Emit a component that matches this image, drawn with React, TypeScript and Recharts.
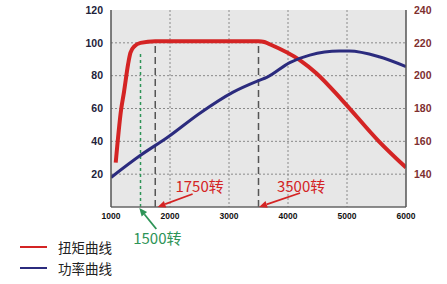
import {
  ComposedChart,
  Line,
  XAxis,
  YAxis,
  CartesianGrid,
  ReferenceLine,
  ReferenceDot,
  Legend,
} from "recharts";

const rpmTicks = [1000, 2000, 3000, 4000, 5000, 6000];
const powerTicks = [20, 40, 60, 80, 100, 120];
const torqueTicks = [140, 160, 180, 200, 220, 240];

// torque curve (Nm, right axis)
const torqueRpm = [1080, 1170, 1220, 1290, 1330, 1400, 1500, 1750, 2500, 3500, 3600, 3700, 4200, 4480, 4920, 5540, 6000];
const torqueNm = [147, 179, 190, 207, 214, 218, 220, 221, 221, 221, 220.5, 219, 209.5, 201.5, 185, 160, 144];

// power curve (kW, left axis)
const powerRpm = [1000, 1500, 1960, 2500, 3070, 3500, 3640, 4030, 4370, 4870, 5040, 5545, 6000];
const powerKw = [18, 31.5, 42.5, 57, 70, 77, 79, 88, 92.5, 95, 95, 91.5, 85.5];

const legendNames = ["扭矩曲线", "功率曲线"];

const RED = "#d42424";
const BLUE = "#2b2b7e";
const GREEN = "#2e9457";

const torqueData = torqueRpm.map((rpm, i) => ({ rpm, torque: torqueNm[i] }));
const powerData = powerRpm.map((rpm, i) => ({ rpm, power: powerKw[i] }));

const Callout = (props: any) => {
  const { cx, cy, dx, dy, tx, ty, text, color } = props;
  const sx = cx + dx;
  const sy = cy + dy;
  const a = Math.atan2(cy - sy, cx - sx);
  const hl = 8;
  const hw = 3.5;
  const bx = cx - hl * Math.cos(a);
  const by = cy - hl * Math.sin(a);
  const nx = -Math.sin(a);
  const ny = Math.cos(a);
  return (
    <g>
      <line x1={sx} y1={sy} x2={bx} y2={by} stroke={color} strokeWidth={1.8} />
      <polygon
        points={`${cx},${cy} ${bx + hw * nx},${by + hw * ny} ${bx - hw * nx},${by - hw * ny}`}
        fill={color}
      />
      <text
        x={cx + tx}
        y={cy + ty}
        textAnchor="middle"
        dominantBaseline="central"
        fill={color}
        fontSize={15}
        fontFamily="'Noto Sans CJK SC', sans-serif"
      >
        {text}
      </text>
    </g>
  );
};

const renderLegend = () => (
  <div style={{ fontFamily: "'Noto Sans CJK SC', sans-serif", fontSize: 13.5, color: "#222" }}>
    {legendNames.map((name, i) => (
      <div key={name} style={{ display: "flex", alignItems: "center", height: 21 }}>
        <span
          style={{
            display: "inline-block",
            width: 27,
            height: 2,
            marginLeft: 20,
            marginRight: 11,
            background: i === 0 ? RED : BLUE,
          }}
        />
        {name}
      </div>
    ))}
  </div>
);

const App = () => {
  return (
    <div style={{ position: "absolute", left: 0, top: 0, width: 447, height: 284, background: "#fff" }}>
      <ComposedChart width={447} height={284} margin={{ top: 10, right: 0, left: 0, bottom: 47 }}>
        <CartesianGrid
          xAxisId="bottom"
          yAxisId="left"
          fill="#e7e7e7"
          stroke="#8a8a8a"
          strokeDasharray="2 2"
          horizontalValues={[20, 40, 60, 80, 100]}
          verticalValues={[2000, 3000, 4000, 5000]}
        />
        <XAxis
          xAxisId="bottom"
          dataKey="rpm"
          type="number"
          domain={[1000, 6000]}
          ticks={rpmTicks}
          allowDataOverflow
          height={30}
          stroke="#666"
          strokeWidth={1.5}
          tickLine={false}
          tickMargin={0}
          tick={{ fontSize: 8.5, fontWeight: 700, fill: "#111", fontFamily: "'Liberation Sans', Arial, sans-serif" }}
        />
        <XAxis
          xAxisId="top"
          orientation="top"
          type="number"
          domain={[1000, 6000]}
          height={0}
          tick={false}
          tickLine={false}
          stroke="#777"
          strokeWidth={1.5}
        />
        <YAxis
          yAxisId="left"
          type="number"
          domain={[0, 120]}
          ticks={powerTicks}
          width={111}
          stroke="#555"
          strokeWidth={1.5}
          tickLine={false}
          tick={{ fontSize: 10.5, fontWeight: 700, fill: "#22223a", fontFamily: "'Liberation Sans', Arial, sans-serif" }}
        />
        <YAxis
          yAxisId="right"
          orientation="right"
          type="number"
          domain={[120, 240]}
          ticks={torqueTicks}
          width={41}
          stroke="#555"
          strokeWidth={1.5}
          tickLine={false}
          tick={{ fontSize: 10.5, fontWeight: 700, fill: "#7e2f2f", fontFamily: "'Liberation Sans', Arial, sans-serif" }}
        />
        <ReferenceLine
          xAxisId="bottom"
          yAxisId="left"
          segment={[{ x: 1500, y: 0 }, { x: 1500, y: 94 }]}
          stroke={GREEN}
          strokeWidth={1.5}
          strokeDasharray="3 3"
        />
        <ReferenceLine
          xAxisId="bottom"
          yAxisId="left"
          segment={[{ x: 1750, y: 0 }, { x: 1750, y: 99 }]}
          stroke="#555"
          strokeWidth={1.5}
          strokeDasharray="7 4"
        />
        <ReferenceLine
          xAxisId="bottom"
          yAxisId="left"
          segment={[{ x: 3500, y: 0 }, { x: 3500, y: 99 }]}
          stroke="#555"
          strokeWidth={1.5}
          strokeDasharray="7 4"
        />
        <Line
          xAxisId="bottom"
          yAxisId="right"
          data={torqueData}
          dataKey="torque"
          type="monotone"
          stroke={RED}
          strokeWidth={4}
          dot={false}
          isAnimationActive={false}
        />
        <Line
          xAxisId="bottom"
          yAxisId="left"
          data={powerData}
          dataKey="power"
          type="monotone"
          stroke={BLUE}
          strokeWidth={3}
          dot={false}
          isAnimationActive={false}
        />
        <ReferenceDot
          xAxisId="bottom"
          yAxisId="left"
          x={1790}
          y={0}
          ifOverflow="visible"
          shape={(p: any) => <Callout {...p} dx={35} dy={-13} tx={42} ty={-22} text="1750转" color={RED} />}
        />
        <ReferenceDot
          xAxisId="bottom"
          yAxisId="left"
          x={3510}
          y={0}
          ifOverflow="visible"
          shape={(p: any) => <Callout {...p} dx={41} dy={-14} tx={42} ty={-22} text="3500转" color={RED} />}
        />
        <ReferenceDot
          xAxisId="bottom"
          yAxisId="left"
          x={1480}
          y={0}
          ifOverflow="visible"
          shape={(p: any) => <Callout {...p} cy={p.cy + 1} dx={17} dy={21} tx={18} ty={29} text="1500转" color={GREEN} />}
        />
        <Legend
          layout="horizontal"
          verticalAlign="middle"
          content={renderLegend}
          wrapperStyle={{ left: 0, top: 236, width: 150 }}
        />
      </ComposedChart>
    </div>
  );
};

export default App;
